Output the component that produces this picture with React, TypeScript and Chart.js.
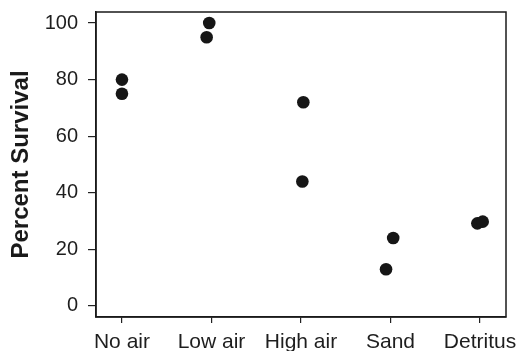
import React, { useEffect, useRef } from "react";
import { Chart, registerables } from "chart.js";

Chart.register(...registerables);

const categories = ["No air", "Low air", "High air", "Sand", "Detritus"];
const xPositions = [1.0, 1.0, 1.975, 1.946, 3.026, 3.015, 4.03, 3.95, 4.97, 5.03];
const survival = [80, 75, 100, 95, 72, 44, 24, 13, 29.2, 29.8];
const yTicks = [0, 20, 40, 60, 80, 100];

const FONT = "'Liberation Sans', Arial, Helvetica, sans-serif";

const framePlugin = {
  id: "frame",
  afterDraw(chart: any) {
    const { ctx, chartArea } = chart;
    ctx.save();
    ctx.strokeStyle = "#1a1a1a";
    ctx.lineWidth = 1.5;
    ctx.strokeRect(chartArea.left, chartArea.top, chartArea.right - chartArea.left, chartArea.bottom - chartArea.top);
    ctx.restore();
  },
};

export default function App() {
  const ref = useRef<HTMLCanvasElement>(null);
  useEffect(() => {
    const data = xPositions.map((x, i) => ({ x, y: survival[i] }));
    const chart = new Chart(ref.current!, {
      type: "scatter",
      data: {
        datasets: [
          {
            data,
            backgroundColor: "#161616",
            borderColor: "#161616",
            pointRadius: 6.3,
            borderWidth: 0,
          },
        ],
      },
      options: {
        animation: false,
        responsive: false,
        maintainAspectRatio: false,
        layout: { padding: { left: 0, right: 10, top: 12, bottom: 0 } },
        plugins: { legend: { display: false }, tooltip: { enabled: false } },
        scales: {
          x: {
            type: "linear",
            min: 0.71,
            max: 5.29,
            afterBuildTicks(scale: any) {
              scale.ticks = categories.map((_, i) => ({ value: i + 1 }));
            },
            afterFit(scale: any) {
              scale.height = 34;
              scale.paddingLeft = 0;
              scale.paddingRight = 0;
            },
            ticks: {
              callback: (v: any) => categories[Math.round(Number(v)) - 1] ?? "",
              color: "#1e1e1e",
              font: { family: FONT, size: 21 },
              padding: 7,
              maxRotation: 0,
              autoSkip: false,
            },
            grid: { drawOnChartArea: false, drawTicks: true, tickLength: 6, color: "#222", lineWidth: 1.2 },
            border: { display: true, color: "#1a1a1a", width: 1.5 },
          },
          y: {
            min: -3.9,
            max: 103.9,
            afterBuildTicks(scale: any) {
              scale.ticks = yTicks.map((v) => ({ value: v }));
            },
            afterFit(scale: any) {
              scale.width = 96;
              scale.paddingTop = 0;
              scale.paddingBottom = 0;
            },
            ticks: {
              color: "#1e1e1e",
              font: { family: FONT, size: 20 },
              padding: 10,
            },
            grid: { drawOnChartArea: false, drawTicks: true, tickLength: 8, color: "#222", lineWidth: 1.2 },
            border: { display: true, color: "#1a1a1a", width: 1.5 },
            title: {
              display: true,
              text: "Percent Survival",
              color: "#1a1a1a",
              font: { family: FONT, size: 24, weight: "bold" },
              padding: { top: 7, bottom: 0 },
            },
          },
        },
      },
      plugins: [framePlugin],
    });
    return () => chart.destroy();
  }, []);
  return (
    <div style={{ position: "fixed", left: 0, top: 0, width: 516, height: 351, background: "#fff" }}>
      <canvas ref={ref} width={516} height={351} style={{ width: 516, height: 351 }} />
    </div>
  );
}
